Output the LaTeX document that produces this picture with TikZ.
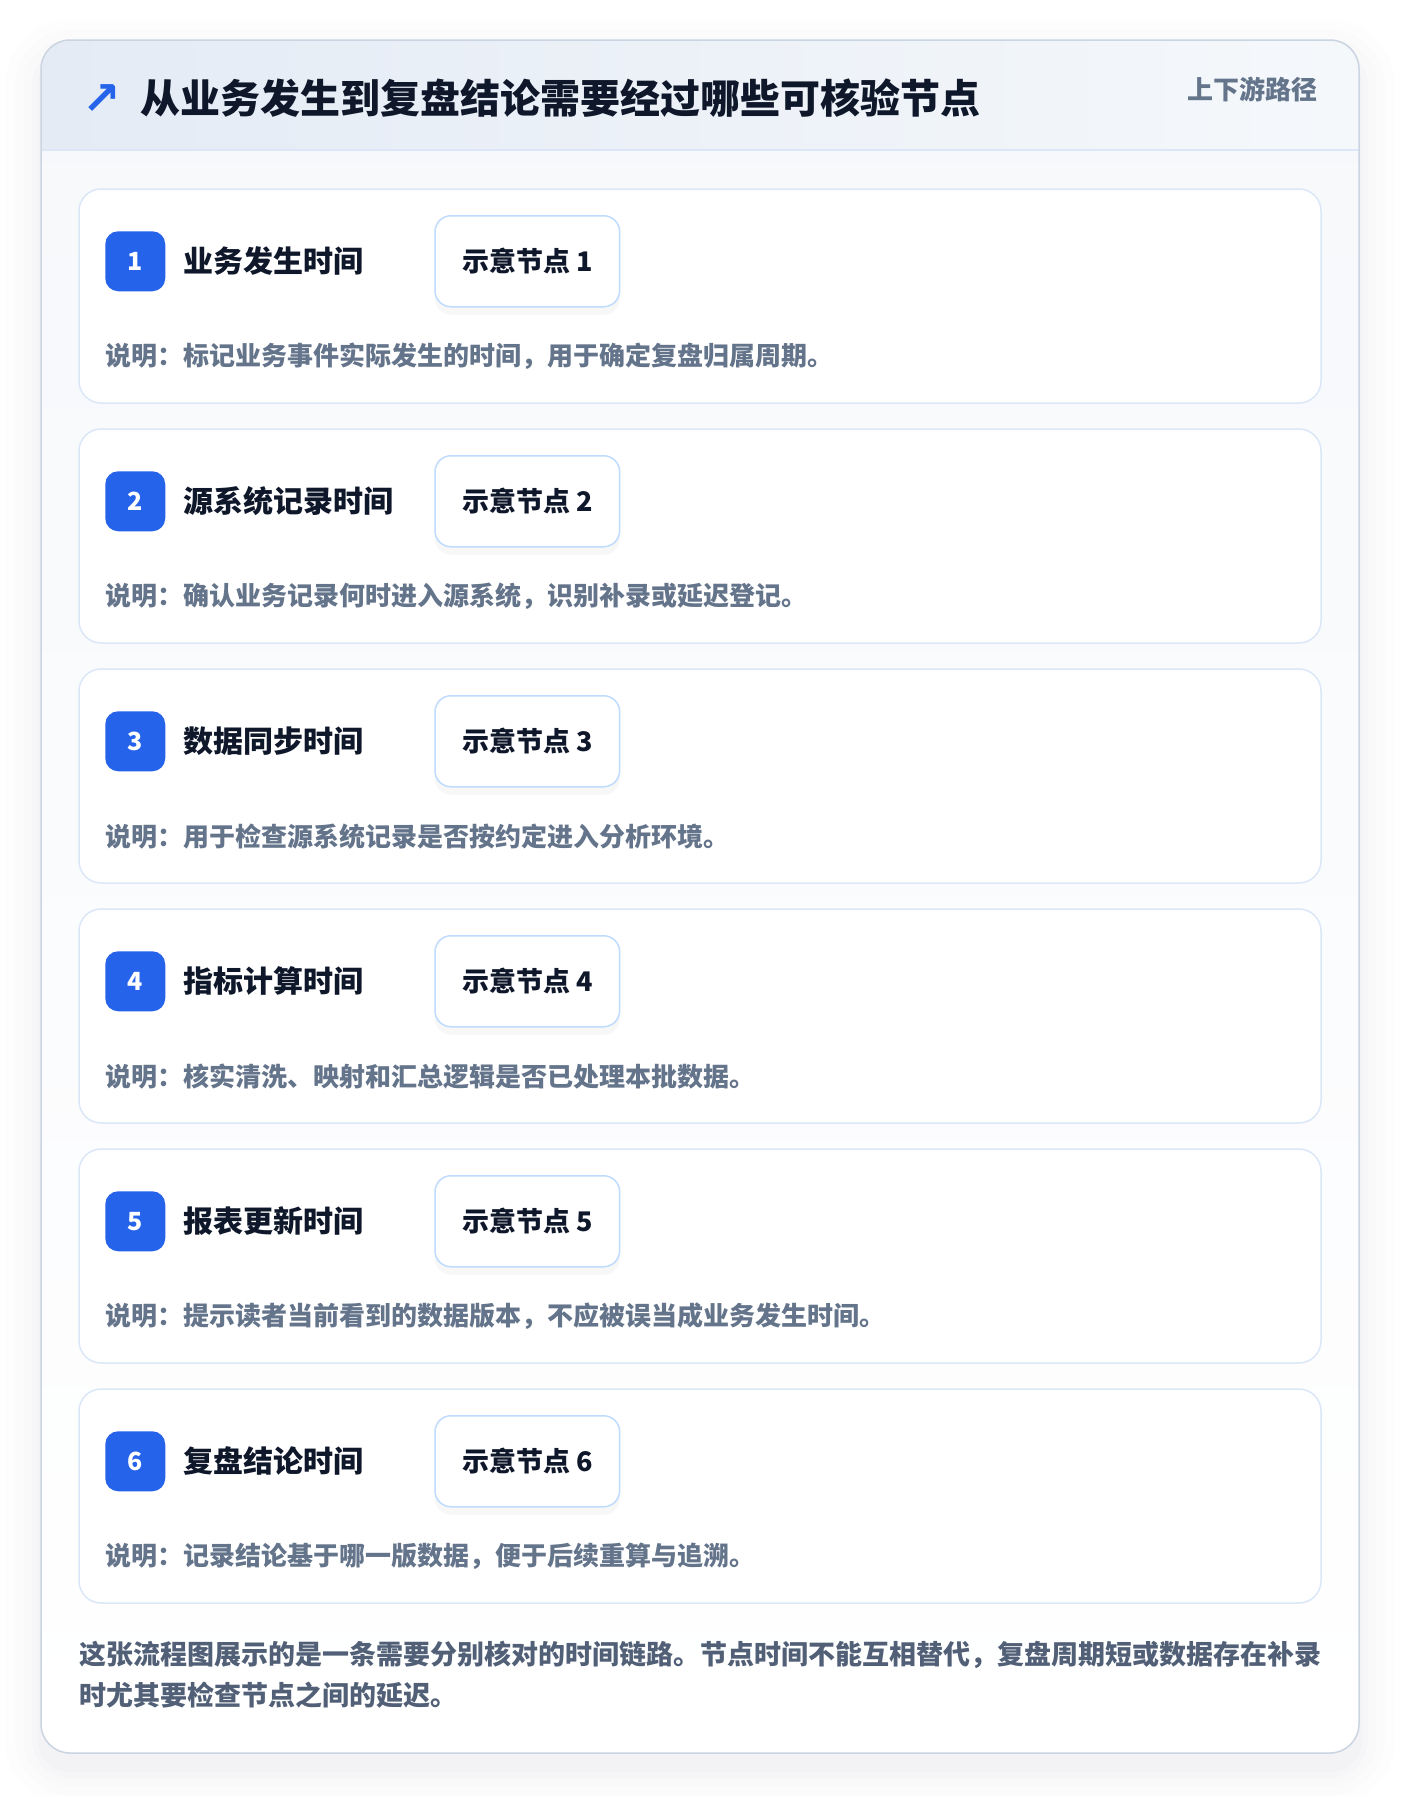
\documentclass[tikz,border=0pt]{standalone}
\usepackage{fontspec}
\setmainfont{Noto Sans CJK SC}
\newfontfamily\symfont{DejaVu Sans}
\usetikzlibrary{positioning,shadows}
\definecolor{inkdark}{HTML}{0F172A}
\definecolor{inkgray}{HTML}{64748B}
\definecolor{inkfoot}{HTML}{526077}
\definecolor{badgeblue}{HTML}{2563EB}
\definecolor{cardline}{HTML}{DBE7F7}
\definecolor{boxline}{HTML}{BFDBFE}
\definecolor{frameline}{HTML}{CBD5E1}
\definecolor{headleft}{HTML}{E4EBF5}
\definecolor{headright}{HTML}{F5F8FB}
\definecolor{bodytop}{HTML}{F6F8FB}
\definecolor{shadowgray}{HTML}{64748B}
\tikzset{
  stepcard/.style={draw=cardline, line width=1.5pt, fill=white, rounded corners=22pt,
    minimum width=1242pt, minimum height=214pt, inner sep=0pt}, % one step of the chain
  badge/.style={fill=badgeblue, rounded corners=13pt, minimum size=60pt, inner sep=0pt,
    text=white, font=\bfseries\fontsize{25}{25}\selectfont},
  steptitle/.style={anchor=west, text=inkdark, inner sep=0pt,
    font=\bfseries\fontsize{30}{30}\selectfont},
  samplebox/.style={anchor=west, draw=boxline, line width=1.5pt, fill=white,
    rounded corners=16pt, minimum height=91pt, inner xsep=27pt, text=inkdark,
    font=\bfseries\fontsize{27}{27}\selectfont,
    drop shadow={opacity=0.06, shadow xshift=0pt, shadow yshift=-8pt}},
  stepnote/.style={anchor=west, text=inkgray, inner sep=0pt,
    font=\bfseries\fontsize{26}{26}\selectfont}
}
\begin{document}
\begin{tikzpicture}[x=1pt, y=-1pt]
  \useasboundingbox (0,0) rectangle (1400,1796);
  \fill[white] (0,0) rectangle (1400,1796);

  % Frame and its shadow
  \foreach \s/\o in {36/0.008, 26/0.01, 17/0.012, 9/0.015, 3/0.02}
    \fill[shadowgray, opacity=\o, rounded corners=29pt+\s pt]
      (41-\s,40-\s+16) rectangle (1359+\s,1753+\s+16);
  \fill[top color=bodytop, bottom color=white, rounded corners=29pt]
    (41,40) rectangle (1359,1753);
  \begin{scope}
    \clip[rounded corners=29pt] (41,40) rectangle (1359,1753);
    \fill[left color=headleft, right color=headright] (41,40) rectangle (1359,150);
  \end{scope}
  \draw[cardline, line width=1.5pt] (41,150) -- (1359,150);
  \draw[frameline, line width=1.5pt, rounded corners=29pt] (41,40) rectangle (1359,1753);

  % Header
  \node[anchor=west, inner sep=0pt, text=inkdark, font=\bfseries\fontsize{40}{40}\selectfont]
    (title) at (140,98) {从业务发生到复盘结论需要经过哪些可核验节点};
  \node[inner sep=0pt, text=badgeblue, font=\symfont\bfseries\fontsize{46}{46}\selectfont]
    (icon) at (102,100) {↗};
  \node[anchor=east, inner sep=0pt, text=inkgray, font=\bfseries\fontsize{26}{26}\selectfont]
    (pathtag) at (1318,89) {上下游路径};

  % Step 1
  \node[stepcard] (card1) at (700,296) {};
  \node[badge] (badge1) at ([shift={(57,73)}]card1.north west) {1};
  \node[steptitle, right=18pt of badge1] (name1) {业务发生时间};
  \node[samplebox] (sample1) at ([shift={(356,73)}]card1.north west) {示意节点 1};
  \node[stepnote] (note1) at ([shift={(27,168)}]card1.north west) {说明：标记业务事件实际发生的时间，用于确定复盘归属周期。};

  % Step 2
  \node[stepcard] (card2) at (700,536) {};
  \node[badge] (badge2) at ([shift={(57,73)}]card2.north west) {2};
  \node[steptitle, right=18pt of badge2] (name2) {源系统记录时间};
  \node[samplebox] (sample2) at ([shift={(356,73)}]card2.north west) {示意节点 2};
  \node[stepnote] (note2) at ([shift={(27,168)}]card2.north west) {说明：确认业务记录何时进入源系统，识别补录或延迟登记。};

  % Step 3
  \node[stepcard] (card3) at (700,776) {};
  \node[badge] (badge3) at ([shift={(57,73)}]card3.north west) {3};
  \node[steptitle, right=18pt of badge3] (name3) {数据同步时间};
  \node[samplebox] (sample3) at ([shift={(356,73)}]card3.north west) {示意节点 3};
  \node[stepnote] (note3) at ([shift={(27,168)}]card3.north west) {说明：用于检查源系统记录是否按约定进入分析环境。};

  % Step 4
  \node[stepcard] (card4) at (700,1016) {};
  \node[badge] (badge4) at ([shift={(57,73)}]card4.north west) {4};
  \node[steptitle, right=18pt of badge4] (name4) {指标计算时间};
  \node[samplebox] (sample4) at ([shift={(356,73)}]card4.north west) {示意节点 4};
  \node[stepnote] (note4) at ([shift={(27,168)}]card4.north west) {说明：核实清洗、映射和汇总逻辑是否已处理本批数据。};

  % Step 5
  \node[stepcard] (card5) at (700,1256) {};
  \node[badge] (badge5) at ([shift={(57,73)}]card5.north west) {5};
  \node[steptitle, right=18pt of badge5] (name5) {报表更新时间};
  \node[samplebox] (sample5) at ([shift={(356,73)}]card5.north west) {示意节点 5};
  \node[stepnote] (note5) at ([shift={(27,168)}]card5.north west) {说明：提示读者当前看到的数据版本，不应被误当成业务发生时间。};

  % Step 6
  \node[stepcard] (card6) at (700,1496) {};
  \node[badge] (badge6) at ([shift={(57,73)}]card6.north west) {6};
  \node[steptitle, right=18pt of badge6] (name6) {复盘结论时间};
  \node[samplebox] (sample6) at ([shift={(356,73)}]card6.north west) {示意节点 6};
  \node[stepnote] (note6) at ([shift={(27,168)}]card6.north west) {说明：记录结论基于哪一版数据，便于后续重算与追溯。};

  % Closing remark
  \node[anchor=north west, inner sep=0pt, text=inkfoot, align=left,
    font=\bfseries\fontsize{27}{41}\selectfont] (remark) at (79,1641)
    {这张流程图展示的是一条需要分别核对的时间链路。节点时间不能互相替代，复盘周期短或数据存在补录\\时尤其要检查节点之间的延迟。};
\end{tikzpicture}
\end{document}
